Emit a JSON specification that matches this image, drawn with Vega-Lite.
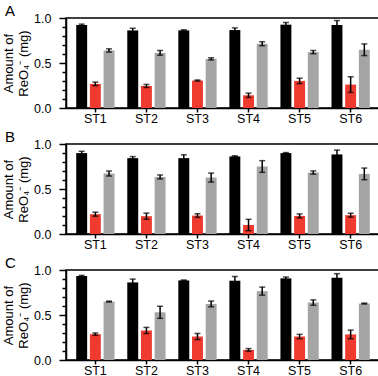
{
  "$schema": "https://vega.github.io/schema/vega-lite/v6.json",
  "padding": {"left": 1, "top": 3, "right": 1, "bottom": 0},
  "spacing": 3,
  "config": {
    "font": "Liberation Sans",
    "view": {"stroke": "black", "strokeWidth": 1.5},
    "axis": {"domainColor": "black", "domainWidth": 1.5, "tickColor": "black", "tickWidth": 1.5, "labelColor": "black", "titleColor": "black", "grid": false}
  },
  "data": {"values": [
    {"p": "A", "st": "ST1", "s": "a", "v": 0.922, "e": 0.01},
    {"p": "A", "st": "ST1", "s": "b", "v": 0.268, "e": 0.02},
    {"p": "A", "st": "ST1", "s": "c", "v": 0.639, "e": 0.018},
    {"p": "A", "st": "ST2", "s": "a", "v": 0.862, "e": 0.024},
    {"p": "A", "st": "ST2", "s": "b", "v": 0.245, "e": 0.017},
    {"p": "A", "st": "ST2", "s": "c", "v": 0.613, "e": 0.026},
    {"p": "A", "st": "ST3", "s": "a", "v": 0.862, "e": 0.007},
    {"p": "A", "st": "ST3", "s": "b", "v": 0.305, "e": 0.006},
    {"p": "A", "st": "ST3", "s": "c", "v": 0.546, "e": 0.012},
    {"p": "A", "st": "ST4", "s": "a", "v": 0.866, "e": 0.024},
    {"p": "A", "st": "ST4", "s": "b", "v": 0.141, "e": 0.024},
    {"p": "A", "st": "ST4", "s": "c", "v": 0.714, "e": 0.022},
    {"p": "A", "st": "ST5", "s": "a", "v": 0.926, "e": 0.024},
    {"p": "A", "st": "ST5", "s": "b", "v": 0.301, "e": 0.03},
    {"p": "A", "st": "ST5", "s": "c", "v": 0.621, "e": 0.018},
    {"p": "A", "st": "ST6", "s": "a", "v": 0.922, "e": 0.05},
    {"p": "A", "st": "ST6", "s": "b", "v": 0.26, "e": 0.087},
    {"p": "A", "st": "ST6", "s": "c", "v": 0.647, "e": 0.065},
    {"p": "B", "st": "ST1", "s": "a", "v": 0.899, "e": 0.02},
    {"p": "B", "st": "ST1", "s": "b", "v": 0.22, "e": 0.022},
    {"p": "B", "st": "ST1", "s": "c", "v": 0.672, "e": 0.028},
    {"p": "B", "st": "ST2", "s": "a", "v": 0.843, "e": 0.017},
    {"p": "B", "st": "ST2", "s": "b", "v": 0.198, "e": 0.034},
    {"p": "B", "st": "ST2", "s": "c", "v": 0.634, "e": 0.022},
    {"p": "B", "st": "ST3", "s": "a", "v": 0.843, "e": 0.037},
    {"p": "B", "st": "ST3", "s": "b", "v": 0.205, "e": 0.02},
    {"p": "B", "st": "ST3", "s": "c", "v": 0.627, "e": 0.05},
    {"p": "B", "st": "ST4", "s": "a", "v": 0.862, "e": 0.007},
    {"p": "B", "st": "ST4", "s": "b", "v": 0.1, "e": 0.063},
    {"p": "B", "st": "ST4", "s": "c", "v": 0.75, "e": 0.065},
    {"p": "B", "st": "ST5", "s": "a", "v": 0.899, "e": 0.006},
    {"p": "B", "st": "ST5", "s": "b", "v": 0.201, "e": 0.022},
    {"p": "B", "st": "ST5", "s": "c", "v": 0.683, "e": 0.018},
    {"p": "B", "st": "ST6", "s": "a", "v": 0.884, "e": 0.048},
    {"p": "B", "st": "ST6", "s": "b", "v": 0.209, "e": 0.022},
    {"p": "B", "st": "ST6", "s": "c", "v": 0.668, "e": 0.065},
    {"p": "C", "st": "ST1", "s": "a", "v": 0.933, "e": 0.007},
    {"p": "C", "st": "ST1", "s": "b", "v": 0.287, "e": 0.013},
    {"p": "C", "st": "ST1", "s": "c", "v": 0.649, "e": 0.005},
    {"p": "C", "st": "ST2", "s": "a", "v": 0.862, "e": 0.037},
    {"p": "C", "st": "ST2", "s": "b", "v": 0.328, "e": 0.034},
    {"p": "C", "st": "ST2", "s": "c", "v": 0.53, "e": 0.067},
    {"p": "C", "st": "ST3", "s": "a", "v": 0.884, "e": 0.005},
    {"p": "C", "st": "ST3", "s": "b", "v": 0.261, "e": 0.034},
    {"p": "C", "st": "ST3", "s": "c", "v": 0.623, "e": 0.032},
    {"p": "C", "st": "ST4", "s": "a", "v": 0.881, "e": 0.047},
    {"p": "C", "st": "ST4", "s": "b", "v": 0.112, "e": 0.015},
    {"p": "C", "st": "ST4", "s": "c", "v": 0.765, "e": 0.045},
    {"p": "C", "st": "ST5", "s": "a", "v": 0.907, "e": 0.015},
    {"p": "C", "st": "ST5", "s": "b", "v": 0.261, "e": 0.024},
    {"p": "C", "st": "ST5", "s": "c", "v": 0.638, "e": 0.03},
    {"p": "C", "st": "ST6", "s": "a", "v": 0.914, "e": 0.045},
    {"p": "C", "st": "ST6", "s": "b", "v": 0.284, "e": 0.048},
    {"p": "C", "st": "ST6", "s": "c", "v": 0.627, "e": 0.005}
  ]},
  "vconcat": [
    {
      "title": {"text": "A", "anchor": "start", "frame": "group", "dx": -61, "offset": -7, "fontSize": 15, "fontWeight": "normal", "color": "black"},
      "width": 314, "height": 90,
      "transform": [{"filter": "datum.p == 'A'"}],
      "encoding": {
        "x": {"field": "st", "type": "nominal", "title": null, "scale": {"paddingInner": 0.25, "paddingOuter": 0.2}, "axis": {"labelAngle": 0, "labelFontSize": 12.5, "tickSize": 4, "labelPadding": 0}},
        "xOffset": {"field": "s", "type": "nominal", "scale": {"paddingInner": 0.2, "paddingOuter": 0}},
        "y": {"field": "v", "type": "quantitative", "scale": {"domain": [0, 1]}, "axis": {"title": ["Amount of", "ReO₄⁻ (mg)"], "titleFontSize": 13, "titleFontWeight": "normal", "titleLineHeight": 15, "titlePadding": 3, "labelFontSize": 12.5, "values": [0, 0.1, 0.2, 0.3, 0.4, 0.5, 0.6, 0.7, 0.8, 0.9, 1], "labelExpr": "abs(datum.value*2 - round(datum.value*2)) < 0.001 ? format(datum.value, '.1f') : ''", "tickSize": {"condition": {"test": "abs(datum.value*2 - round(datum.value*2)) < 0.001", "value": 7}, "value": 4}, "labelPadding": 8}}
      },
      "layer": [
        {"mark": {"type": "bar"}, "encoding": {"color": {"field": "s", "type": "nominal", "scale": {"domain": ["a", "b", "c"], "range": ["#000000", "#ee3a2f", "#a5a5a5"]}, "legend": null}}},
        {"mark": {"type": "errorbar", "ticks": {"size": 6, "thickness": 1.5}, "thickness": 1.5, "color": "black"}, "encoding": {"yError": {"field": "e"}}}
      ]
    },
    {
      "title": {"text": "B", "anchor": "start", "frame": "group", "dx": -61, "offset": -7, "fontSize": 15, "fontWeight": "normal", "color": "black"},
      "width": 314, "height": 90,
      "transform": [{"filter": "datum.p == 'B'"}],
      "encoding": {
        "x": {"field": "st", "type": "nominal", "title": null, "scale": {"paddingInner": 0.25, "paddingOuter": 0.2}, "axis": {"labelAngle": 0, "labelFontSize": 12.5, "tickSize": 4, "labelPadding": 0}},
        "xOffset": {"field": "s", "type": "nominal", "scale": {"paddingInner": 0.2, "paddingOuter": 0}},
        "y": {"field": "v", "type": "quantitative", "scale": {"domain": [0, 1]}, "axis": {"title": ["Amount of", "ReO₄⁻ (mg)"], "titleFontSize": 13, "titleFontWeight": "normal", "titleLineHeight": 15, "titlePadding": 3, "labelFontSize": 12.5, "values": [0, 0.1, 0.2, 0.3, 0.4, 0.5, 0.6, 0.7, 0.8, 0.9, 1], "labelExpr": "abs(datum.value*2 - round(datum.value*2)) < 0.001 ? format(datum.value, '.1f') : ''", "tickSize": {"condition": {"test": "abs(datum.value*2 - round(datum.value*2)) < 0.001", "value": 7}, "value": 4}, "labelPadding": 8}}
      },
      "layer": [
        {"mark": {"type": "bar"}, "encoding": {"color": {"field": "s", "type": "nominal", "scale": {"domain": ["a", "b", "c"], "range": ["#000000", "#ee3a2f", "#a5a5a5"]}, "legend": null}}},
        {"mark": {"type": "errorbar", "ticks": {"size": 6, "thickness": 1.5}, "thickness": 1.5, "color": "black"}, "encoding": {"yError": {"field": "e"}}}
      ]
    },
    {
      "title": {"text": "C", "anchor": "start", "frame": "group", "dx": -61, "offset": -7, "fontSize": 15, "fontWeight": "normal", "color": "black"},
      "width": 314, "height": 90,
      "transform": [{"filter": "datum.p == 'C'"}],
      "encoding": {
        "x": {"field": "st", "type": "nominal", "title": null, "scale": {"paddingInner": 0.25, "paddingOuter": 0.2}, "axis": {"labelAngle": 0, "labelFontSize": 12.5, "tickSize": 4, "labelPadding": 0}},
        "xOffset": {"field": "s", "type": "nominal", "scale": {"paddingInner": 0.2, "paddingOuter": 0}},
        "y": {"field": "v", "type": "quantitative", "scale": {"domain": [0, 1]}, "axis": {"title": ["Amount of", "ReO₄⁻ (mg)"], "titleFontSize": 13, "titleFontWeight": "normal", "titleLineHeight": 15, "titlePadding": 3, "labelFontSize": 12.5, "values": [0, 0.1, 0.2, 0.3, 0.4, 0.5, 0.6, 0.7, 0.8, 0.9, 1], "labelExpr": "abs(datum.value*2 - round(datum.value*2)) < 0.001 ? format(datum.value, '.1f') : ''", "tickSize": {"condition": {"test": "abs(datum.value*2 - round(datum.value*2)) < 0.001", "value": 7}, "value": 4}, "labelPadding": 8}}
      },
      "layer": [
        {"mark": {"type": "bar"}, "encoding": {"color": {"field": "s", "type": "nominal", "scale": {"domain": ["a", "b", "c"], "range": ["#000000", "#ee3a2f", "#a5a5a5"]}, "legend": null}}},
        {"mark": {"type": "errorbar", "ticks": {"size": 6, "thickness": 1.5}, "thickness": 1.5, "color": "black"}, "encoding": {"yError": {"field": "e"}}}
      ]
    }
  ]
}
